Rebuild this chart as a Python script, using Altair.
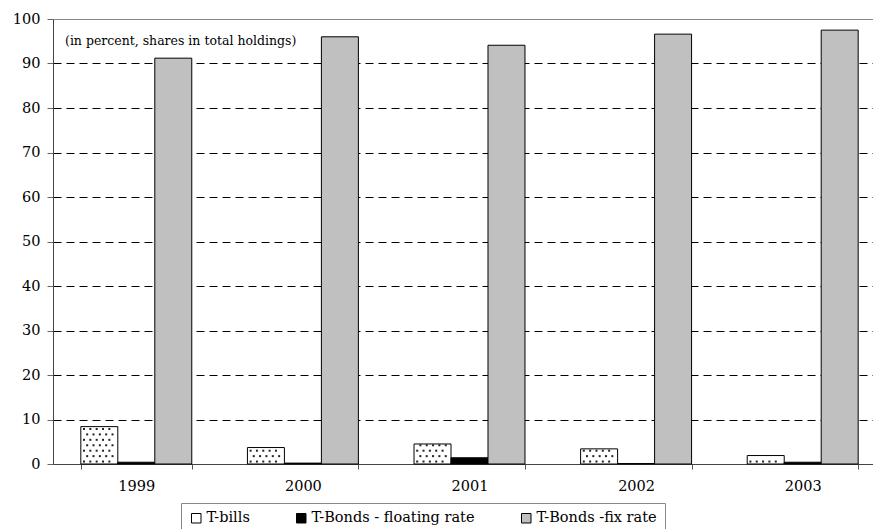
import altair as alt
import pandas as pd

years = ["1999", "2000", "2001", "2002", "2003"]
series = ["T-bills", "T-Bonds - floating rate", "T-Bonds -fix rate"]
t_bills = [8.4, 3.7, 4.5, 3.4, 1.9]
t_bonds_floating = [0.4, 0.2, 1.4, 0.1, 0.4]
t_bonds_fix = [91.2, 96.0, 94.1, 96.6, 97.5]
y_ticks = [0, 10, 20, 30, 40, 50, 60, 70, 80, 90, 100]
note = "(in percent, shares in total holdings)"

FONT = "DejaVu Serif"

rows = []
for name, vals in zip(series, [t_bills, t_bonds_floating, t_bonds_fix]):
    for yr, v in zip(years, vals):
        rows.append({"year": yr, "series": name, "share": v})
bars_df = pd.DataFrame(rows)

# dotted texture for the T-bills bars: staggered rows of dots inside each bar
dot_rows = []
for yr, v in zip(years, t_bills):
    level, i = 0.55, 0
    while level < v - 0.25:
        slots = [1, 3, 5, 7, 9] if i % 2 == 0 else [2, 4, 6, 8, 10]
        for s in slots:
            dot_rows.append({"year": yr, "slot": s, "level": level})
        level += 1.22
        i += 1
dots_df = pd.DataFrame(dot_rows)

x_enc = alt.X(
    "year:N",
    sort=years,
    title=None,
    scale=alt.Scale(range=[0, 833], paddingInner=0.334, paddingOuter=0.167),
    axis=alt.Axis(
        labelAngle=0,
        tickBand="extent",
        tickSize=5,
        tickColor="#555555",
        domainColor="#444444",
        labelFont=FONT,
        labelFontSize=14.5,
        labelColor="black",
        labelPadding=10,
        grid=False,
    ),
)

y_scale = alt.Scale(domain=[0, 100], nice=False)

bars = alt.Chart(bars_df).mark_bar(stroke="black", strokeWidth=1).encode(
    x=x_enc,
    xOffset=alt.XOffset(
        "series:N", sort=series,
        scale=alt.Scale(domain=series, paddingInner=0, paddingOuter=0),
    ),
    y=alt.Y(
        "share:Q",
        scale=y_scale,
        title=None,
        axis=alt.Axis(
            values=y_ticks,
            tickSize=6,
            tickColor="#666666",
            domainColor="#444444",
            labelFont=FONT,
            labelFontSize=14.5,
            labelColor="black",
            labelPadding=7,
            grid=True,
            gridColor={"condition": {"test": "datum.value === 100", "value": "#888888"}, "value": "black"},
            gridDash={"condition": {"test": "datum.value === 100", "value": []}, "value": [8, 5]},
            gridWidth=1,
        ),
    ),
    fill=alt.Fill(
        "series:N",
        sort=series,
        scale=alt.Scale(domain=series, range=["white", "black", "#c0c0c0"]),
        legend=alt.Legend(
            title=None,
            orient="none",
            legendX=128,
            legendY=484,
            direction="horizontal",
            strokeColor="#888888",
            padding=8,
            symbolType="square",
            symbolSize=90,
            symbolStrokeColor="black",
            symbolStrokeWidth=1,
            labelFont=FONT,
            labelFontSize=14.5,
            labelColor="black",
            labelOffset=3,
            columnPadding=44,
            labelLimit=400,
        ),
    ),
)

dots = alt.Chart(dots_df).mark_square(size=4, color="#222222", opacity=1).encode(
    x=alt.X("year:N", sort=years),
    xOffset=alt.XOffset(
        "slot:O",
        scale=alt.Scale(domain=list(range(36)), paddingInner=0, paddingOuter=0),
    ),
    y=alt.Y("level:Q", scale=y_scale),
)

label = alt.Chart(pd.DataFrame({"t": [note]})).mark_text(
    align="left", baseline="middle", font=FONT, fontSize=12.5, color="black"
).encode(
    x=alt.value(12),
    y=alt.datum(95, scale=y_scale),
    text="t:N",
)

chart = (
    alt.layer(bars, dots, label)
    .resolve_scale(xOffset="independent")
    .properties(
        width=820,
        height=445,
        autosize=alt.AutoSizeParams(type="none"),
        padding={"left": 53, "top": 19, "right": 0, "bottom": 65},
        background="white",
    )
    .configure_view(stroke=None)
)

chart.save("out.html", embed_options={"renderer": "svg", "actions": False})
